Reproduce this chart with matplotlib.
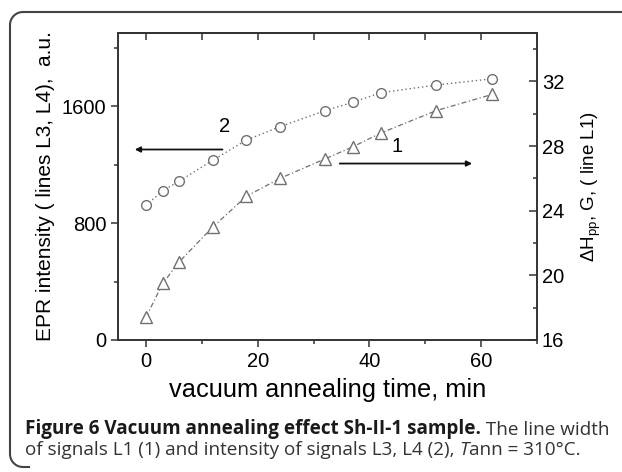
import numpy as np
import matplotlib
import matplotlib.pyplot as plt
from matplotlib.lines import Line2D
from matplotlib.ticker import MultipleLocator
matplotlib.use('Agg')

plt.rcParams['font.family'] = ['Liberation Sans', 'DejaVu Sans']
plt.rcParams['mathtext.fontset'] = 'custom'
plt.rcParams['mathtext.rm'] = 'Liberation Sans'

# annealing time, min
time_min = [0, 3, 6, 12, 18, 24, 32, 37, 42, 52, 62]
# curve 2: EPR intensity of L3, L4 (left axis)
intensity = [921, 1020, 1088, 1230, 1368, 1459, 1568, 1625, 1691, 1744, 1787]
# curve 1: line width dHpp of L1 (right axis)
line_width = [17.4, 19.5, 20.85, 23.0, 24.9, 26.0, 27.2, 27.95, 28.8, 30.2, 31.2]

grey = '#707070'
spine_c = '#333333'

fig = plt.figure(figsize=(6.22, 4.72), dpi=100)
ax = fig.add_axes([0.1897, 0.2797, 0.6736, 0.6504])
ax2 = ax.twinx()

ax.plot(time_min, intensity, linestyle=(0, (1, 2)), color=grey, lw=1,
        marker='o', ms=7, mfc='white', mec=grey, mew=1)
ax2.plot(time_min, line_width, linestyle=(0, (4, 2, 1, 2)), color=grey, lw=0.9,
         marker='^', ms=8, mfc='white', mec=grey, mew=1)

ax.set_xlim(-5, 70)
ax.set_ylim(0, 2100)
ax2.set_ylim(16, 35)

ax.xaxis.set_major_locator(MultipleLocator(20))
ax.xaxis.set_minor_locator(MultipleLocator(10))
ax.yaxis.set_major_locator(MultipleLocator(800))
ax.yaxis.set_minor_locator(MultipleLocator(400))
ax2.yaxis.set_major_locator(MultipleLocator(4))
ax2.yaxis.set_minor_locator(MultipleLocator(2))

ax.tick_params(which='both', direction='out', labelsize=14.5, color=spine_c, width=1.1)
ax.tick_params(which='major', length=5)
ax.tick_params(which='minor', length=3)
ax2.tick_params(which='both', direction='in', labelsize=14.5, color=spine_c, width=1.1)
ax2.tick_params(which='major', length=6)
ax2.tick_params(which='minor', length=3)

top = ax.secondary_xaxis('top')
top.xaxis.set_major_locator(MultipleLocator(20))
top.xaxis.set_minor_locator(MultipleLocator(10))
top.tick_params(which='both', direction='in', labeltop=False, color=spine_c, width=1.1)
top.tick_params(which='major', length=5)
top.tick_params(which='minor', length=5)

for a in (ax, ax2):
    for s in a.spines.values():
        s.set_color(spine_c)
        s.set_linewidth(1.2)
top.spines['top'].set_color(spine_c)
top.spines['top'].set_linewidth(1.2)

ax.set_xlabel('vacuum annealing time, min', fontsize=18.3, labelpad=5)
ax.set_ylabel('EPR intensity ( lines L3, L4),  a.u.', fontsize=15, labelpad=5)
ax2.set_ylabel('ΔH$_{\\mathregular{pp}}$, G, ( line L1)', fontsize=13.5, labelpad=11)

# arrows pointing to the axis of each curve
ax.annotate('', xy=(-2, 1303), xytext=(13.7, 1303),
            arrowprops=dict(arrowstyle='-|>', color='#111111', lw=1.3,
                            mutation_scale=8, shrinkA=0, shrinkB=0))
ax.text(14, 1460, '2', fontsize=14.5, ha='center', va='center')
ax.annotate('', xy=(58.4, 1207), xytext=(34.7, 1207),
            arrowprops=dict(arrowstyle='-|>', color='#111111', lw=1.3,
                            mutation_scale=8, shrinkA=0, shrinkB=0))
ax.text(45, 1325, '1', fontsize=14.5, ha='center', va='center')

# frame: top and left edges with rounded corners, open to the right
r = 13
x0, ytop, ybot = 10, 472 - 12, 472 - 467
a1 = np.linspace(np.pi / 2, np.pi, 20)
a2 = np.linspace(np.pi, 1.5 * np.pi, 20)
fx = np.concatenate([[640], x0 + r + r * np.cos(a1), x0 + r + r * np.cos(a2), [x0 + r + 6]])
fy = np.concatenate([[ytop], ytop - r + r * np.sin(a1), ybot + r + r * np.sin(a2), [ybot]])
fig.add_artist(Line2D(fx, fy, transform=None, color='#444444', lw=1.5))

cap = 'Open Sans'
cs = 13.6
t1 = fig.text(25 / 622, 1 - 434 / 472, 'Figure 6 Vacuum annealing effect Sh-II-1 sample.',
              fontsize=cs, fontweight='bold', family=cap, va='baseline', color='#1a1a1a')
t1b = plt.annotate(' The line width', xy=(1, 0), xycoords=t1, va='bottom', ha='left',
                   fontsize=cs, family=cap, color='#333333')
t2 = fig.text(25 / 622, 1 - 455 / 472, 'of signals L1 (1) and intensity of signals L3, L4 (2), ',
              fontsize=cs, family=cap, color='#333333', va='baseline')
t2b = plt.annotate('T', xy=(1, 0), xycoords=t2, va='bottom', ha='left',
                   fontsize=cs, family=cap, style='italic', color='#333333')
plt.annotate('ann = 310°C.', xy=(1, 0), xycoords=t2b, va='bottom', ha='left',
             fontsize=cs, family=cap, color='#333333')

fig.savefig('out.png', dpi=100)
